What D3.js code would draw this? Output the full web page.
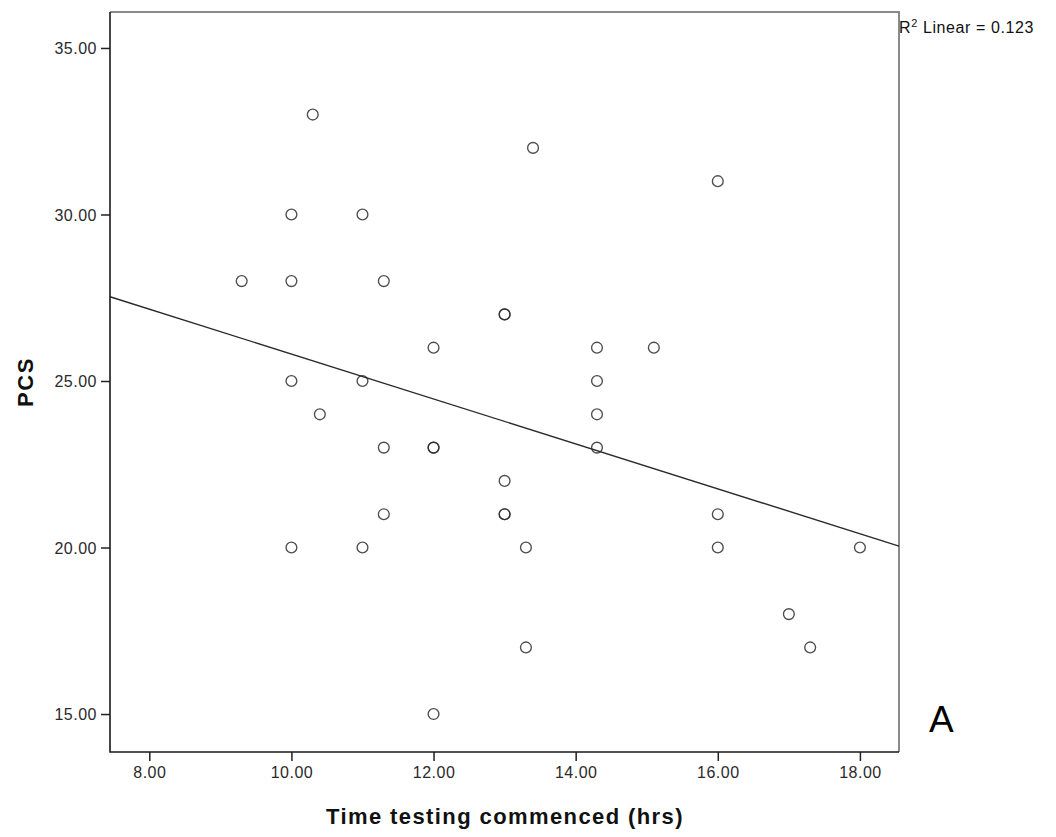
<!DOCTYPE html>
<html>
<head>
<meta charset="utf-8">
<script src="https://cdn.jsdelivr.net/npm/d3@7"></script>
<style>
  html, body { margin: 0; padding: 0; background: #fff; }
  svg { display: block; font-family: Arial, "Liberation Sans", sans-serif; }
</style>
</head>
<body>
<svg id="chart" width="1056" height="837"></svg>
<script>
// Data
const timeHrs = [9.3, 10, 10, 10, 10, 10.3, 10.4, 11, 11, 11, 11.3, 11.3, 11.3,
  12, 12, 12, 12, 13, 13, 13, 13, 13, 13.3, 13.3, 13.4,
  14.3, 14.3, 14.3, 14.3, 15.1, 16, 16, 16, 17, 17.3, 18];
const pcs = [28, 30, 28, 25, 20, 33, 24, 30, 25, 20, 28, 23, 21,
  26, 23, 23, 15, 27, 27, 22, 21, 21, 20, 17, 32,
  26, 25, 24, 23, 26, 31, 21, 20, 18, 17, 20];
const xTicks = [8, 10, 12, 14, 16, 18];
const yTicks = [15, 20, 25, 30, 35];
const xDomain = [7.447, 18.55];
const yDomain = [13.86, 36.08];
const xTitle = "Time testing commenced (hrs)";
const yTitle = "PCS";
const r2Label = "0.123";
const panelLabel = "A";

const svg = d3.select("#chart");
const L = 110, R = 899, T = 12, B = 752;
const x = d3.scaleLinear().domain(xDomain).range([L, R]);
const y = d3.scaleLinear().domain(yDomain).range([B, T]);

// least-squares fit
const mx = d3.mean(timeHrs), my = d3.mean(pcs);
let sxy = 0, sxx = 0;
timeHrs.forEach((v, i) => { sxy += (v - mx) * (pcs[i] - my); sxx += (v - mx) * (v - mx); });
const slope = sxy / sxx, intercept = my - slope * mx;

// frame top/right (gray)
svg.append("path")
  .attr("d", `M${L},${T}H${R}V${B}`)
  .attr("fill", "none").attr("stroke", "#8a8a8a").attr("stroke-width", 2);

// points
svg.append("g").selectAll("circle")
  .data(timeHrs.map((v, i) => [v, pcs[i]]))
  .join("circle")
  .attr("cx", d => x(d[0])).attr("cy", d => y(d[1]))
  .attr("r", 5.4)
  .attr("fill", "none").attr("stroke", "#2e2e2e").attr("stroke-width", 1.35)
  .attr("stroke-opacity", 0.85);

// regression line
const fitLine = d3.line().x(d => x(d)).y(d => y(intercept + slope * d));
svg.append("path")
  .attr("d", fitLine(xDomain))
  .attr("fill", "none").attr("stroke", "#2a2a2a").attr("stroke-width", 1.4);

// axes
const xAxis = d3.axisBottom(x).tickValues(xTicks).tickFormat(d3.format(".2f")).tickSize(9).tickSizeOuter(0);
const yAxis = d3.axisLeft(y).tickValues(yTicks).tickFormat(d3.format(".2f")).tickSize(9).tickSizeOuter(0);

const gx = svg.append("g").attr("transform", `translate(0,${B})`).call(xAxis);
const gy = svg.append("g").attr("transform", `translate(${L},0)`).call(yAxis);
[gx, gy].forEach(g => {
  g.select(".domain").remove();
  g.selectAll(".tick line").attr("stroke", "#222").attr("stroke-width", 1.5);
  g.selectAll(".tick text").attr("fill", "#2a2a2a").style("font-size", "16px").style("letter-spacing", "0.5px");
});
gx.selectAll(".tick text").attr("y", 15).attr("dy", "0.71em");
gy.selectAll(".tick text").attr("x", -13).attr("dy", "0.36em");

// left & bottom axis lines (black)
svg.append("path")
  .attr("d", `M${L},${T}V${B}H${R}`)
  .attr("fill", "none").attr("stroke", "#1a1a1a").attr("stroke-width", 1.6);

// axis titles
svg.append("text")
  .attr("x", (325 + 685) / 2).attr("y", 824)
  .attr("text-anchor", "middle")
  .style("font-weight", "bold").style("font-size", "22px").style("letter-spacing", "1.4px")
  .attr("fill", "#111")
  .text(xTitle);

svg.append("text")
  .attr("transform", `translate(33,382) rotate(-90)`)
  .attr("text-anchor", "middle")
  .style("font-weight", "bold").style("font-size", "22px").style("letter-spacing", "1.5px")
  .attr("fill", "#111")
  .text(yTitle);

// R² label
const r2 = svg.append("text").attr("x", 899).attr("y", 33)
  .style("font-size", "16px").style("letter-spacing", "0.6px").attr("fill", "#111");
r2.append("tspan").text("R");
r2.append("tspan").attr("dy", -6).style("font-size", "11px").text("2");
r2.append("tspan").attr("dy", 6).text(" Linear = " + r2Label);

// panel label
svg.append("text").attr("x", 929).attr("y", 732)
  .style("font-size", "37px").attr("fill", "#000")
  .text(panelLabel);
</script>
</body>
</html>
